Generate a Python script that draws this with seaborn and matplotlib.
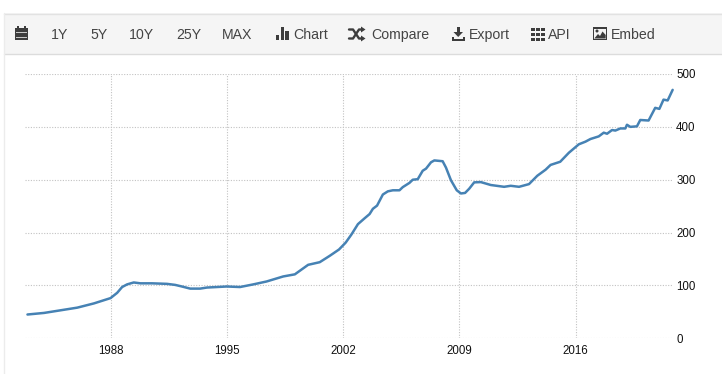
import pandas as pd
import seaborn as sns
import matplotlib.pyplot as plt
from matplotlib.patches import Circle, Polygon, Rectangle

# values
years = [
    1983.0, 1984.0, 1985.0, 1986.0, 1987.0, 1988.0, 1988.4, 1988.7, 1989.0, 1989.4,
    1989.8, 1990.5, 1991.4, 1991.9, 1992.3, 1992.8, 1993.4, 1993.8, 1995.0, 1995.8,
    1996.6, 1997.4, 1998.4, 1999.1, 1999.9, 2000.6, 2001.2, 2001.76, 2002.16, 2002.5,
    2002.9, 2003.3, 2003.6, 2003.8, 2004.05, 2004.4, 2004.7, 2005.0, 2005.4, 2005.6,
    2006.0, 2006.2, 2006.5, 2006.8, 2007.0, 2007.3, 2007.5, 2008.0, 2008.2, 2008.5,
    2008.85, 2009.1, 2009.35, 2009.6, 2009.9, 2010.3, 2010.9, 2011.7, 2012.1, 2012.6,
    2013.2, 2013.7, 2014.2, 2014.5, 2015.08, 2015.6, 2016.2, 2016.6, 2016.9, 2017.4,
    2017.7, 2017.9, 2018.2, 2018.4, 2018.7, 2019.0, 2019.1, 2019.3, 2019.7, 2019.9,
    2020.4, 2020.8, 2021.05, 2021.3, 2021.55, 2021.85,
]
values = [
    45, 48, 53, 58, 66, 76, 86, 97, 102, 105.6,
    104, 104, 103, 101, 98, 94, 94, 96, 98, 97,
    102, 107.5, 117, 121, 139, 144, 156, 168, 181, 196,
    216, 227, 235, 245, 251, 272, 278, 280, 280, 286,
    294, 300, 301, 317, 321, 333, 336.5, 335, 323, 299,
    280, 274, 275, 283, 295, 295.5, 290, 286.6, 288.5, 286.6,
    291.7, 307.5, 319, 328, 334, 351, 367, 372, 377, 382,
    389, 387, 394, 393, 397, 397, 404, 400, 401, 413,
    412, 436, 434, 451.5, 450, 470,
]
x_ticks = [1988, 1995, 2002, 2009, 2016]
y_ticks = [0, 100, 200, 300, 400, 500]
toolbar_labels = ["1Y", "5Y", "10Y", "25Y", "MAX", "Chart", "Compare", "Export", "API", "Embed"]

W, H = 722, 374
INK = "#3d3d3d"

sns.set_style("white")
plt.rcParams["font.family"] = ["Liberation Sans", "DejaVu Sans"]

fig = plt.figure(figsize=(W / 100, H / 100), dpi=100)
ax = fig.add_axes([25 / W, 1 - 338.3 / H, (672 - 25) / W, (338.3 - 74) / H])

df = pd.DataFrame({"year": years, "value": values})
sns.lineplot(data=df, x="year", y="value", color="#4682b4", linewidth=1.8, ax=ax, zorder=3, clip_on=False)

# 2016-1988 spans 465 px
px_per_year = (575.5 - 110.5) / 28
ax.set_xlim(1988 + (25 - 110.5) / px_per_year, 1988 + (672 - 110.5) / px_per_year)
ax.set_ylim(0, 500)
ax.set_xticks(x_ticks)
ax.set_yticks(y_ticks)
ax.set_xlabel("")
ax.set_ylabel("")
ax.yaxis.tick_right()
ax.tick_params(axis="both", length=0, labelsize=8.3, colors="#111111")
ax.tick_params(axis="x", pad=5)
ax.tick_params(axis="y", pad=3)
ax.grid(True, color="#c2c2c2", linestyle=(0, (1, 1.4)), linewidth=0.8)
for side in ax.spines:
    ax.spines[side].set_visible(False)

# toolbar drawn in pixel coordinates
ui = fig.add_axes([0, 0, 1, 1], zorder=5)
ui.set_xlim(0, W)
ui.set_ylim(H, 0)
ui.axis("off")
ui.patch.set_alpha(0)

ui.add_patch(Rectangle((4, 13), W - 4, 41, fc="#f5f5f5", ec="none"))
ui.plot([4, W], [13.5, 13.5], color="#e2e2e2", lw=1)
ui.plot([4, W], [54, 54], color="#dcdcdc", lw=1)
ui.plot([4, 4], [13, H], color="#ececec", lw=1)

label_x = [51, 90, 129, 176, 222, 293, 371, 469, 548, 611]
for lab, lx in zip(toolbar_labels, label_x):
    ui.text(lx, 34.6, lab, fontsize=10.2, color="#444444", ha="left", va="center")


def box(x, y, w, h, color=INK):
    ui.add_patch(Rectangle((x, y), w, h, fc=color, ec="none"))


# calendar
box(15, 28, 13, 12)
box(17, 26, 2, 3)
box(24, 26, 2, 3)
for yy in (32, 34.5, 37):
    box(16, yy, 11, 0.7, "#c8c8c8")

# bars
box(276, 35, 3, 5)
box(280.5, 27, 3, 13)
box(285, 31, 3.5, 9)

# shuffle
ui.plot([349, 353, 359, 362], [29.5, 29.5, 38.5, 38.5], color=INK, lw=1.7)
ui.plot([349, 353, 359, 362], [38.5, 38.5, 29.5, 29.5], color=INK, lw=1.7)
ui.add_patch(Polygon([[361, 26.5], [365.5, 29.5], [361, 32.5]], fc=INK, ec="none"))
ui.add_patch(Polygon([[361, 35.5], [365.5, 38.5], [361, 41.5]], fc=INK, ec="none"))

# export
box(456.5, 27, 3.5, 5)
ui.add_patch(Polygon([[453.5, 32], [463, 32], [458.2, 37]], fc=INK, ec="none"))
box(451.5, 37, 2, 3)
box(463, 37, 2, 3)
box(451.5, 38.5, 13.5, 2)

# api grid
for gx in (531, 536, 541):
    for gy in (27.5, 32.5, 37.5):
        box(gx, gy, 3.6, 3.6)

# image
box(593, 27, 14, 13)
box(594.3, 28.5, 11.4, 10, "#f5f5f5")
ui.add_patch(Circle((597, 31), 1.5, fc=INK, ec="none"))
ui.add_patch(Polygon([[594.3, 38.5], [598, 34], [600, 36], [602.5, 31.5], [605.7, 35], [605.7, 38.5]], fc=INK, ec="none"))

fig.savefig("out.png", dpi=100)
